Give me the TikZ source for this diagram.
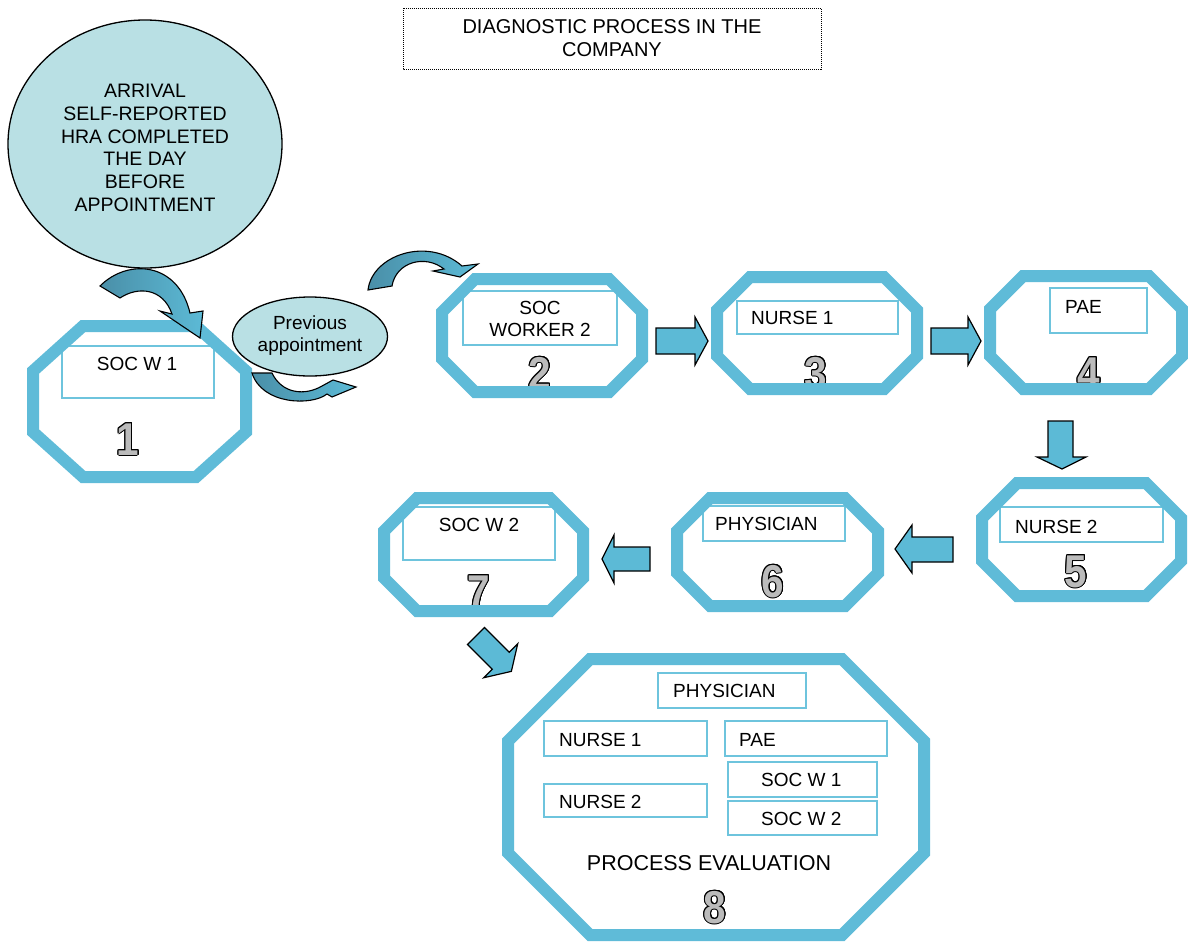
\documentclass[tikz,border=0pt]{standalone}
\usepackage{fontspec}
\setmainfont{Liberation Sans}
\usepackage{contour}
\usepackage{graphicx}
\contourlength{1pt}
\definecolor{octblue}{HTML}{5FBBD8}
\definecolor{boxblue}{HTML}{6EC4DD}
\definecolor{arrowblue}{HTML}{5CBAD6}
\definecolor{darkteal}{HTML}{4A8FA8}
\definecolor{ellfill}{HTML}{B9E0E4}
\definecolor{numgray}{HTML}{BBBBBB}
\newcommand{\octpath}[6]{(#1+#5,#2) -- (#3-#5,#2) -- (#3,#2+#6) -- (#3,#4-#6) -- (#3-#5,#4) -- (#1+#5,#4) -- (#1,#4-#6) -- (#1,#2+#6) -- cycle}
\newcommand{\bignum}[1]{\scalebox{0.88}[1]{\contour{black}{\textcolor{numgray}{#1}}}}
\tikzset{
  octline/.style={draw=octblue, line width=12pt, line join=miter},
  inbox/.style={draw=boxblue, line width=1.8pt},
  lbl/.style={font=\fontsize{19}{22}\selectfont, inner sep=0pt, text=black, align=center},
  numlbl/.style={font=\fontsize{46}{46}\selectfont\bfseries, inner sep=0pt, anchor=base},
  blk/.style={fill=arrowblue, draw=black, line width=1.2pt, line join=miter},
  curv/.style={left color=darkteal, right color=arrowblue, draw=black, line width=1.1pt, line join=miter},
  ell/.style={fill=ellfill, draw=black, line width=1.3pt}
}
\begin{document}
\begin{tikzpicture}[x=1pt,y=-1pt]
\useasboundingbox (0,0) rectangle (1188,943);
% title
\draw[densely dotted, line width=1pt] (403,8) rectangle (821,69);
\node[lbl, font=\fontsize{20}{23}\selectfont] (title) at (612,38) {DIAGNOSTIC PROCESS IN THE\\COMPANY};
% ellipses
\draw[ell] (145,144) ellipse [x radius=137, y radius=124];
\node[lbl, font=\fontsize{19.5}{22.7}\selectfont] (arrival) at (145,148) {ARRIVAL\\SELF-REPORTED\\HRA COMPLETED\\THE DAY\\BEFORE\\APPOINTMENT};
\draw[ell] (310,336.5) ellipse [x radius=77.5, y radius=39.5];
\node[lbl] (prev) at (310,336) {Previous\\appointment};
% octagon fills
\foreach \a/\b/\c/\d/\e/\f in {33/326/246/477/50/45, 442/279/642/392/33/33, 717/277/917/389/33/33, 990/276/1182/389/33/33, 982/483/1181/596/35/35, 677/498/878/606/33/33, 384/498/583/611/33/33, 508/659/924/935/82/82}
  \fill[white] \octpath{\a}{\b}{\c}{\d}{\e}{\f};
% inner boxes
\draw[inbox] (62,346) rectangle (214,398);
\draw[inbox] (463,291) rectangle (617,345);
\draw[inbox] (737,301) rectangle (898,334);
\draw[inbox] (1050,288) rectangle (1147,333);
\draw[inbox] (1000,507) rectangle (1163,542);
\draw[inbox] (703,506) rectangle (845,541);
\draw[inbox] (403,507) rectangle (555,560);
\draw[inbox] (658,673) rectangle (806,708);
\draw[inbox] (544,721) rectangle (707,756);
\draw[inbox] (725,721) rectangle (887,756);
\draw[inbox] (728,762) rectangle (877,797);
\draw[inbox] (728,801) rectangle (877,835);
\draw[inbox] (544,784) rectangle (707,817);
% labels
\node[lbl] (t1) at (137,364) {SOC W 1};
\begin{scope}
  \clip (463,291) rectangle (617,338);
  \node[lbl] (t2) at (540,319) {SOC\\WORKER 2};
\end{scope}
\node[lbl, anchor=west] (t3) at (751,318) {NURSE 1};
\node[lbl, anchor=west] (t4) at (1065,307) {PAE};
\node[lbl, anchor=west] (t5) at (1015,527) {NURSE 2};
\node[lbl, anchor=west] (t6) at (715,524) {PHYSICIAN};
\node[lbl] (t7) at (479,525) {SOC W 2};
\node[lbl, anchor=west] (e1) at (673,691) {PHYSICIAN};
\node[lbl, anchor=west] (e2) at (559,740) {NURSE 1};
\node[lbl, anchor=west] (e3) at (739,740) {PAE};
\node[lbl, anchor=west] (e4) at (761,780) {SOC W 1};
\node[lbl, anchor=west] (e5) at (761,819) {SOC W 2};
\node[lbl, anchor=west] (e6) at (559,802) {NURSE 2};
\node[lbl, font=\fontsize{21.5}{24}\selectfont] (eval) at (709,863) {PROCESS EVALUATION};
% numbers
\node[numlbl] (n1) at (128,455) {\bignum{1}};
\node[numlbl] (n2) at (540,389) {\bignum{2}};
\node[numlbl] (n3) at (816,389) {\bignum{3}};
\node[numlbl] (n4) at (1089,389) {\bignum{4}};
\node[numlbl] (n5) at (1076,587) {\bignum{5}};
\node[numlbl] (n6) at (773,597) {\bignum{6}};
\node[numlbl] (n7) at (479,607) {\bignum{7}};
\node[numlbl] (n8) at (715,923) {\bignum{8}};
% octagon strokes
\foreach \a/\b/\c/\d/\e/\f in {33/326/246/477/50/45, 442/279/642/392/33/33, 717/277/917/389/33/33, 990/276/1182/389/33/33, 982/483/1181/596/35/35, 677/498/878/606/33/33, 384/498/583/611/33/33, 508/659/924/935/82/82}
  \draw[octline] \octpath{\a}{\b}{\c}{\d}{\e}{\f};
% block arrows
\draw[blk] (656,328) -- (695,328) -- (695,317) -- (708,341) -- (695,365) -- (695,354) -- (656,354) -- cycle;
\draw[blk] (931,328) -- (968,328) -- (968,317) -- (981,341) -- (968,365) -- (968,354) -- (931,354) -- cycle;
\draw[blk] (1048,421) -- (1073,421) -- (1073,457) -- (1086,457) -- (1062,469) -- (1037,457) -- (1048,457) -- cycle;
\draw[blk] (953,537) -- (912,537) -- (912,525) -- (895,549) -- (912,573) -- (912,562) -- (953,562) -- cycle;
\draw[blk] (650,547) -- (614,547) -- (614,535) -- (602,559) -- (614,583) -- (614,571) -- (650,571) -- cycle;
\begin{scope}[shift={(476,636)}, rotate=-45]
  \draw[blk] (0,-12) -- (35,-12) -- (35,-24) -- (50,0) -- (35,24) -- (35,12) -- (0,12) -- cycle;
\end{scope}
% curved arrows
\shade[curv] (100,286) .. controls (128,258) and (178,262) .. (190,313) -- (203,311) -- (200,338) -- (160,311) -- (172,314) .. controls (163,288) and (138,286) .. (120,298) -- cycle;
\shade[curv] (252,373) -- (272,373) .. controls (282,394) and (305,396) .. (322,386) -- (333,380) -- (356,387) -- (332,397) -- (327,394) .. controls (312,406) and (262,405) .. (252,373) -- cycle;
\shade[curv] (368,290) .. controls (372,255) and (428,236) .. (462,266) -- (478,264) -- (460,277) -- (433,271) -- (444,269) .. controls (425,254) and (396,262) .. (392,286) -- cycle;
\end{tikzpicture}
\end{document}
